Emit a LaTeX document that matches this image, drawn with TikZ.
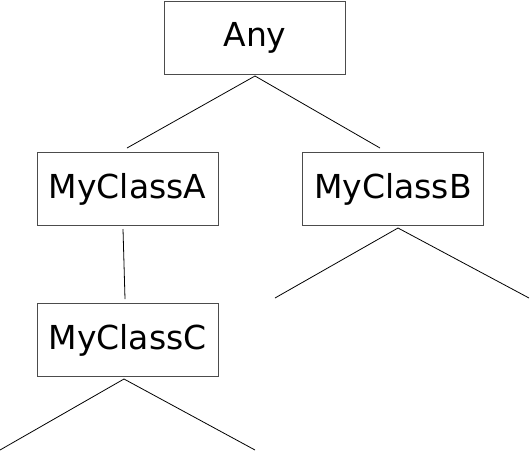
\documentclass[tikz,border=0pt]{standalone}
\usepackage{fontspec}
\setmainfont{DejaVu Sans}
\usetikzlibrary{positioning}

\begin{document}
\begin{tikzpicture}[
  x=1pt, y=-1pt,
  cls/.style={draw=black!70, line width=1pt, minimum width=181pt,
              minimum height=73pt, inner sep=0pt,
              font=\fontsize{33}{40}\selectfont},
  edge/.style={black, line width=0.8pt}
]
\useasboundingbox (0,0) rectangle (530,451);

\node[cls] (any) at (255,37.5) {Any};
\node[cls] (clsA) at (127.5,189) {MyClassA};
\node[cls] (clsB) at (393,189) {MyClassB};
\node[cls] (clsC) at (127.5,340) {MyClassC};

% end points of the branches
\coordinate (anyS) at (255,76);
\coordinate (aTop) at (127,148);
\coordinate (bTop) at (380,148);
\coordinate (aS) at (123,229);
\coordinate (cTop) at (125,299);
\coordinate (bS) at (398,228);
\coordinate (bL) at (275,298);
\coordinate (bR) at (529,298);
\coordinate (cS) at (124,379);
\coordinate (cL) at (0,450);
\coordinate (cR) at (255,450);

\draw[edge] (aTop) -- (anyS) -- (bTop);
\draw[edge] (aS) -- (cTop);
\draw[edge] (bL) -- (bS) -- (bR);
\draw[edge] (cL) -- (cS) -- (cR);

\end{tikzpicture}
\end{document}
